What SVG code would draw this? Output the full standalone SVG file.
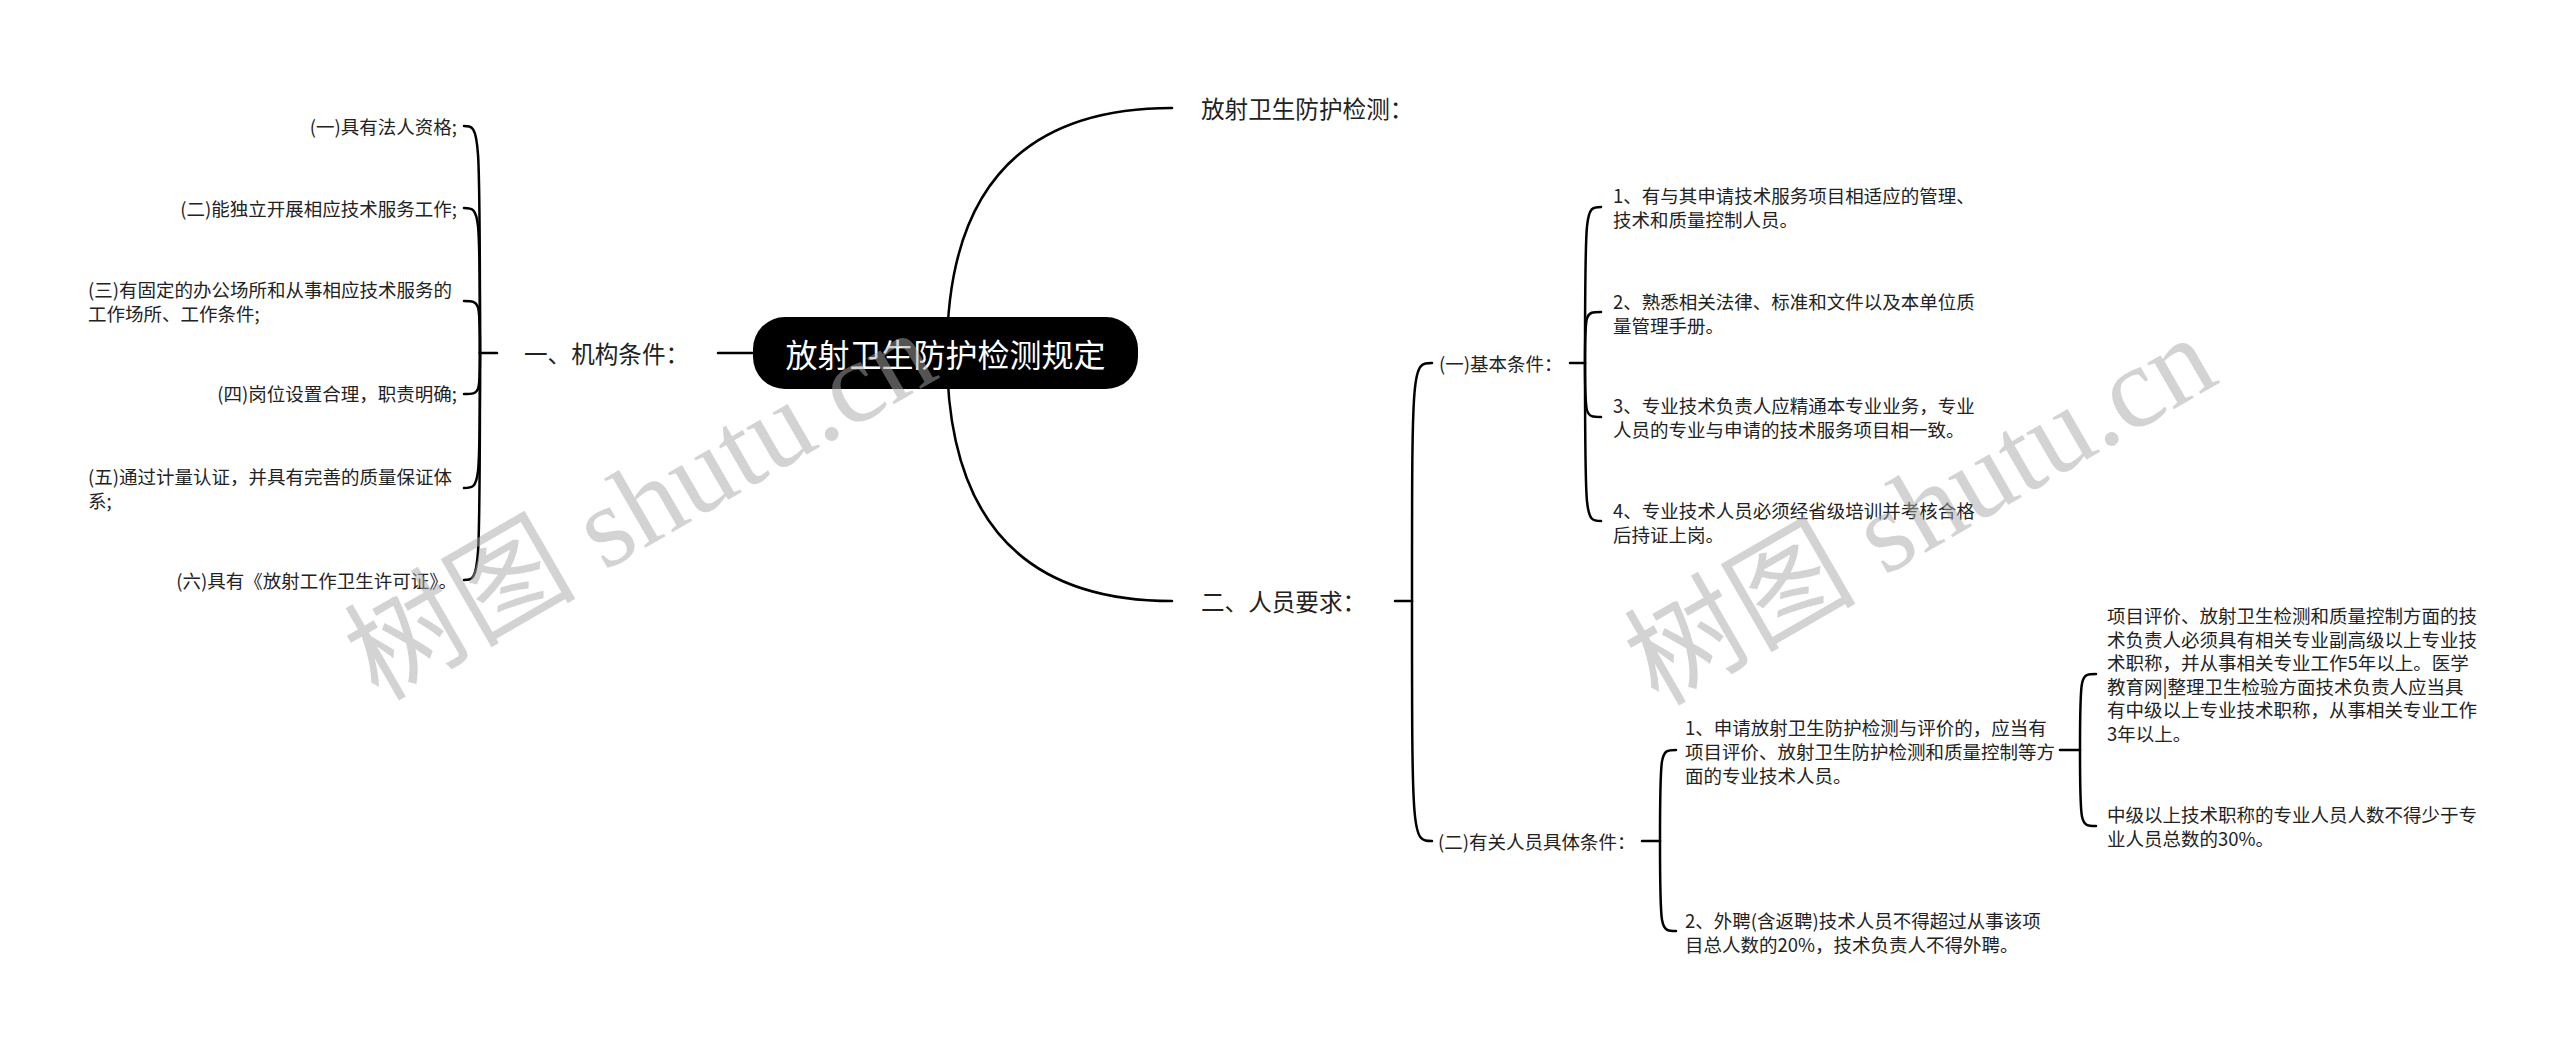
<svg xmlns="http://www.w3.org/2000/svg" width="2560" height="1041" viewBox="0 0 2560 1041">
<style>
text{font-family:'Noto Sans CJK SC','Noto Sans',sans-serif;fill:#222;dominant-baseline:central}
.leaf{font-size:18.5px}
.l1{font-size:23.6px}
.root{font-size:32px;fill:#fff}
.c{fill:none;stroke:#000;stroke-width:2.5;stroke-linecap:round}
.wm{font-family:'Liberation Serif','Noto Sans CJK SC',serif;font-size:116px;fill:#a8a8a8;fill-opacity:.5;dominant-baseline:alphabetic}
</style>
<rect width="2560" height="1041" fill="#fff"/>
<g id="connectors" class="c">
<path d="M945 353H718"/>
<path d="M947 353Q947 108 1172 108"/>
<path d="M947 353Q947 601 1172 601"/>
<path d="M497 353H480"/>
<path d="M480 353C480 126 480 126 464 126"/>
<path d="M480 353C480 208 480 208 464 208"/>
<path d="M480 353C480 301 480 301 464 301"/>
<path d="M480 353C480 394 480 394 464 394"/>
<path d="M480 353C480 488 480 488 464 488"/>
<path d="M480 353C480 580 480 580 464 580"/>
<path d="M1395 601H1412"/>
<path d="M1412 601C1412 363 1412 363 1432 363"/>
<path d="M1412 601C1412 841 1412 841 1432 841"/>
<path d="M1570 363H1585"/>
<path d="M1585 363C1585 207 1585 207 1601 207"/>
<path d="M1585 363C1585 312 1585 312 1601 312"/>
<path d="M1585 363C1585 417 1585 417 1601 417"/>
<path d="M1585 363C1585 521 1585 521 1601 521"/>
<path d="M1642 841H1660"/>
<path d="M1660 841C1660 750 1660 750 1676 750"/>
<path d="M1660 841C1660 931 1660 931 1676 931"/>
<path d="M2060 750H2080"/>
<path d="M2080 750C2080 674 2080 674 2096 674"/>
<path d="M2080 750C2080 826 2080 826 2096 826"/>
</g>
<g id="root">
<rect x="753" y="317" width="385" height="72" rx="32" fill="#000"/>
<text class="root" x="945.5" y="353" text-anchor="middle">放射卫生防护检测规定</text>
</g>
<g id="n-top"><text class="l1" x="1201" y="108">放射卫生防护检测：</text></g>
<g id="n-jigou"><text class="l1" x="524" y="353">一、机构条件：</text></g>
<g id="n-renyuan"><text class="l1" x="1201" y="601">二、人员要求：</text></g>
<g id="l1"><text class="leaf" x="457" y="126" text-anchor="end">(一)具有法人资格;</text></g>
<g id="l2"><text class="leaf" x="457" y="208" text-anchor="end">(二)能独立开展相应技术服务工作;</text></g>
<g id="l3"><text class="leaf"><tspan x="88" y="289">(三)有固定的办公场所和从事相应技术服务的</tspan><tspan x="88" y="313">工作场所、工作条件;</tspan></text></g>
<g id="l4"><text class="leaf" x="457" y="393" text-anchor="end">(四)岗位设置合理，职责明确;</text></g>
<g id="l5"><text class="leaf"><tspan x="88" y="476">(五)通过计量认证，并具有完善的质量保证体</tspan><tspan x="88" y="500">系;</tspan></text></g>
<g id="l6"><text class="leaf" x="457" y="580" text-anchor="end">(六)具有《放射工作卫生许可证》。</text></g>
<g id="n-jiben"><text class="leaf" x="1439" y="363">(一)基本条件：</text></g>
<g id="b1"><text class="leaf"><tspan x="1613" y="195">1、有与其申请技术服务项目相适应的管理、</tspan><tspan x="1613" y="219">技术和质量控制人员。</tspan></text></g>
<g id="b2"><text class="leaf"><tspan x="1613" y="300.5">2、熟悉相关法律、标准和文件以及本单位质</tspan><tspan x="1613" y="324.5">量管理手册。</tspan></text></g>
<g id="b3"><text class="leaf"><tspan x="1613" y="405">3、专业技术负责人应精通本专业业务，专业</tspan><tspan x="1613" y="429">人员的专业与申请的技术服务项目相一致。</tspan></text></g>
<g id="b4"><text class="leaf"><tspan x="1613" y="509.5">4、专业技术人员必须经省级培训并考核合格</tspan><tspan x="1613" y="533.5">后持证上岗。</tspan></text></g>
<g id="n-juti"><text class="leaf" x="1438" y="841">(二)有关人员具体条件：</text></g>
<g id="p1"><text class="leaf"><tspan x="1685" y="727">1、申请放射卫生防护检测与评价的，应当有</tspan><tspan x="1685" y="751">项目评价、放射卫生防护检测和质量控制等方</tspan><tspan x="1685" y="775">面的专业技术人员。</tspan></text></g>
<g id="p2"><text class="leaf"><tspan x="1685" y="920">2、外聘(含返聘)技术人员不得超过从事该项</tspan><tspan x="1685" y="944">目总人数的20%，技术负责人不得外聘。</tspan></text></g>
<g id="p1a"><text class="leaf"><tspan x="2107" y="615">项目评价、放射卫生检测和质量控制方面的技</tspan><tspan x="2107" y="638.5">术负责人必须具有相关专业副高级以上专业技</tspan><tspan x="2107" y="662">术职称，并从事相关专业工作5年以上。医学</tspan><tspan x="2107" y="685.5">教育网|整理卫生检验方面技术负责人应当具</tspan><tspan x="2107" y="709">有中级以上专业技术职称，从事相关专业工作</tspan><tspan x="2107" y="732.5">3年以上。</tspan></text></g>
<g id="p1b"><text class="leaf"><tspan x="2107" y="814">中级以上技术职称的专业人员人数不得少于专</tspan><tspan x="2107" y="838">业人员总数的30%。</tspan></text></g>
<text class="wm" x="378" y="702" transform="rotate(-30 378 702)">树图 shutu.cn</text>
<text class="wm" x="1658" y="707" transform="rotate(-30 1658 707)">树图 shutu.cn</text>
</svg>
